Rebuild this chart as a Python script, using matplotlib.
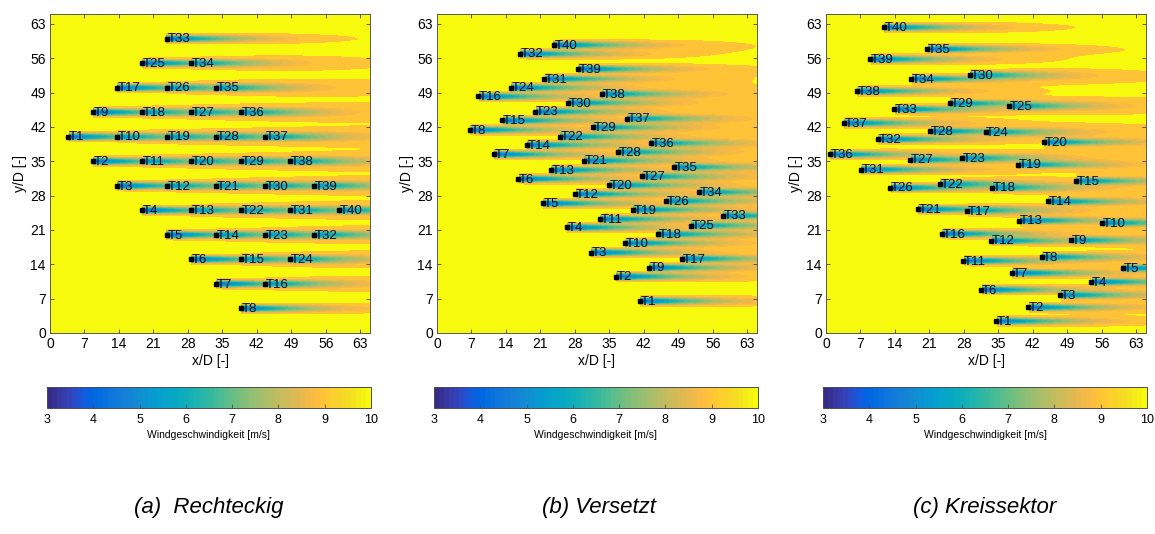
import numpy as np
import matplotlib
matplotlib.use("Agg")
import matplotlib.pyplot as plt
from matplotlib.colors import ListedColormap, Normalize, BoundaryNorm
from matplotlib.cm import ScalarMappable

plt.rcParams['font.family'] = ['Liberation Sans', 'DejaVu Sans']

# ---------------- data ----------------
labels = ["T%d" % i for i in range(1, 41)]

# (a) Rechteckig
rect_x = [3.7, 8.7, 13.7, 18.7, 23.7, 28.7, 33.7, 38.7,
          8.7, 13.7, 18.7, 23.7, 28.7, 33.7, 38.7, 43.7,
          13.7, 18.7, 23.7, 28.7, 33.7, 38.7, 43.7, 48.7,
          18.7, 23.7, 28.7, 33.7, 38.7, 43.7, 48.7, 53.7,
          23.7, 28.7, 33.7, 38.7, 43.7, 48.7, 53.7, 58.7]
rect_y = [40, 35, 30, 25, 20, 15, 10, 5,
          45, 40, 35, 30, 25, 20, 15, 10,
          50, 45, 40, 35, 30, 25, 20, 15,
          55, 50, 45, 40, 35, 30, 25, 20,
          60, 55, 50, 45, 40, 35, 30, 25]

# (b) Versetzt
vers_x = [41.2, 36.4, 31.3, 26.4, 21.5, 16.5, 11.6, 6.7,
          43.1, 38.1, 33.1, 28.1, 23.1, 18.2, 13.3, 8.4,
          49.7, 44.8, 39.8, 34.9, 29.9, 25.0, 20.0, 15.0,
          51.5, 46.6, 41.6, 36.7, 31.7, 26.7, 21.8, 16.8,
          58.1, 53.2, 48.2, 43.4, 38.5, 33.5, 28.6, 23.7]
vers_y = [6.5, 11.5, 16.4, 21.5, 26.4, 31.4, 36.4, 41.4,
          13.3, 18.3, 23.2, 28.3, 33.2, 38.3, 43.3, 48.2,
          15.1, 20.1, 25.1, 30.1, 35.1, 40.0, 45.1, 50.0,
          21.9, 26.9, 31.9, 36.9, 41.9, 46.9, 51.8, 56.9,
          23.9, 28.7, 33.8, 38.7, 43.7, 48.7, 53.8, 58.7]

# (c) Kreissektor
kreis_x = [34.6, 41.1, 47.5, 53.9, 60.3, 31.5, 37.7, 43.8, 49.8, 56.1,
           27.9, 33.5, 39.3, 45.0, 50.7, 23.5, 28.7, 33.8, 39.1, 44.2,
           18.6, 23.1, 27.7, 32.4, 37.2, 13.1, 17.1, 21.1, 25.1, 29.2,
           7.1, 10.5, 13.9, 17.3, 20.6, 0.8, 3.6, 6.2, 9.0, 11.7]
kreis_y = [2.4, 5.2, 7.7, 10.4, 13.2, 8.8, 12.2, 15.5, 18.9, 22.4,
           14.7, 18.8, 22.9, 26.8, 31.0, 20.2, 24.9, 29.6, 34.3, 38.9,
           25.2, 30.4, 35.7, 40.9, 46.2, 29.6, 35.3, 41.1, 46.8, 52.6,
           33.3, 39.5, 45.6, 51.8, 57.9, 36.4, 42.8, 49.3, 55.8, 62.3]

captions = ["(a)  Rechteckig", "(b) Versetzt", "(c) Kreissektor"]
axis_ticks = [0, 7, 14, 21, 28, 35, 42, 49, 56, 63]
cbar_ticks = [3, 4, 5, 6, 7, 8, 9, 10]
U0 = 10.0  # free stream speed [m/s]

# MATLAB parula (64 entries)
PARULA = [
    (0.2081, 0.1663, 0.5292), (0.2116, 0.1898, 0.5777), (0.2123, 0.2138, 0.6270),
    (0.2081, 0.2386, 0.6771), (0.1959, 0.2645, 0.7279), (0.1707, 0.2919, 0.7792),
    (0.1253, 0.3242, 0.8303), (0.0591, 0.3598, 0.8683), (0.0117, 0.3875, 0.8820),
    (0.0060, 0.4086, 0.8828), (0.0165, 0.4266, 0.8786), (0.0329, 0.4430, 0.8720),
    (0.0498, 0.4586, 0.8641), (0.0629, 0.4737, 0.8554), (0.0723, 0.4887, 0.8467),
    (0.0779, 0.5040, 0.8384), (0.0793, 0.5200, 0.8312), (0.0749, 0.5375, 0.8263),
    (0.0641, 0.5570, 0.8240), (0.0488, 0.5772, 0.8228), (0.0343, 0.5966, 0.8199),
    (0.0265, 0.6137, 0.8135), (0.0239, 0.6287, 0.8038), (0.0231, 0.6418, 0.7913),
    (0.0228, 0.6535, 0.7768), (0.0267, 0.6642, 0.7607), (0.0384, 0.6743, 0.7436),
    (0.0590, 0.6838, 0.7254), (0.0843, 0.6928, 0.7062), (0.1133, 0.7015, 0.6859),
    (0.1453, 0.7098, 0.6646), (0.1801, 0.7177, 0.6424), (0.2178, 0.7250, 0.6193),
    (0.2586, 0.7317, 0.5954), (0.3022, 0.7376, 0.5712), (0.3482, 0.7424, 0.5473),
    (0.3953, 0.7459, 0.5244), (0.4420, 0.7481, 0.5033), (0.4871, 0.7491, 0.4840),
    (0.5300, 0.7491, 0.4661), (0.5709, 0.7485, 0.4494), (0.6099, 0.7473, 0.4337),
    (0.6473, 0.7456, 0.4188), (0.6834, 0.7435, 0.4044), (0.7184, 0.7411, 0.3905),
    (0.7525, 0.7384, 0.3768), (0.7858, 0.7356, 0.3633), (0.8185, 0.7327, 0.3498),
    (0.8507, 0.7299, 0.3360), (0.8824, 0.7274, 0.3217), (0.9139, 0.7258, 0.3063),
    (0.9450, 0.7261, 0.2886), (0.9739, 0.7314, 0.2666), (0.9938, 0.7455, 0.2403),
    (0.9990, 0.7653, 0.2164), (0.9955, 0.7861, 0.1967), (0.9880, 0.8066, 0.1794),
    (0.9789, 0.8271, 0.1633), (0.9697, 0.8481, 0.1475), (0.9626, 0.8705, 0.1309),
    (0.9589, 0.8949, 0.1132), (0.9598, 0.9218, 0.0948), (0.9661, 0.9514, 0.0755),
    (0.9763, 0.9831, 0.0538)]
cmap = ListedColormap(PARULA)
VMIN, VMAX = 3.0, 10.0


def parula_at(v):
    idx = int(np.clip((v - VMIN) / (VMAX - VMIN) * 64, 0, 63))
    return PARULA[idx]


# ---------------- simple Gaussian wake model ----------------
def single_wake(xt, yt, uin, X, Y):
    dx = X - xt
    pos = dx > 0
    dxp = np.where(pos, dx, 0.0)
    amp = 0.6 * np.exp(-dxp / 15.0)
    k = 0.011 + 0.045 * (1.0 - uin / U0)
    sig = 0.5 + k * dxp
    return np.where(pos, uin * amp * np.exp(-(Y - yt) ** 2 / (2 * sig ** 2)), 0.0)


def wind_field(tx, ty, X, Y):
    tx = np.asarray(tx, float)
    ty = np.asarray(ty, float)
    order = np.argsort(tx)
    params = []
    for i in order:
        d2 = 0.0
        for (xj, yj, uj) in params:
            d2 += float(single_wake(xj, yj, uj, np.array(tx[i]), np.array(ty[i]))) ** 2
        params.append((tx[i], ty[i], U0 - np.sqrt(d2)))
    tot_sq = np.zeros_like(X)
    tot_lin = np.zeros_like(X)
    for (xj, yj, uj) in params:
        d = single_wake(xj, yj, uj, X, Y)
        tot_sq += d ** 2
        tot_lin += d
    # RSS in the wake cores, closer to linear summation where tails overlap
    comb = np.maximum(np.sqrt(tot_sq), np.minimum(tot_lin, 0.9))
    return U0 - comb


gx = np.linspace(0, 65, 651)
gy = np.linspace(0, 65, 1301)
GX, GY = np.meshgrid(gx, gy)

levels = list(np.arange(3.0, 9.01, 0.25)) + [9.55, 10.01]
band_colors = [parula_at(l) for l in levels[:-2]] + [PARULA[-1]]
band_cmap = ListedColormap(band_colors)
band_norm = BoundaryNorm(levels, band_cmap.N)

# ---------------- figure ----------------
W, H = 1155, 534
fig = plt.figure(figsize=(W / 100, H / 100), dpi=100)

layouts = [(rect_x, rect_y), (vers_x, vers_y), (kreis_x, kreis_y)]
ax_left_px = [50, 437, 826]
cb_left_px = [47, 434, 823]
cap_cx = [209, 599, 985]

for k, (tx, ty) in enumerate(layouts):
    ax = fig.add_axes([ax_left_px[k] / W, (H - 333) / H, 320 / W, 319 / H])
    U = np.clip(wind_field(tx, ty, GX, GY), 3.0, 10.0)
    ax.imshow(U, origin='lower', extent=(0, 65, 0, 65), cmap=band_cmap,
              norm=band_norm, aspect='auto', interpolation='nearest')
    ax.plot(tx, ty, 's', color='black', ms=3.2, mec='black')
    for x, y, lab in zip(tx, ty, labels):
        ax.text(x + 0.15, y - 0.15, lab, fontsize=9.5, color='#0a0a28',
                ha='left', va='center')
    ax.set_xlim(0, 65)
    ax.set_ylim(0, 65)
    ax.set_xticks(axis_ticks)
    ax.set_yticks(axis_ticks)
    ax.tick_params(direction='in', top=True, right=True, length=3,
                   width=0.6, labelsize=10, color='0.25', pad=3)
    for s in ax.spines.values():
        s.set_color('0.35')
        s.set_linewidth(0.7)
    ax.set_xlabel('x/D [-]', fontsize=10, labelpad=2)
    ax.set_ylabel('y/D [-]', fontsize=10, labelpad=2)

    cax = fig.add_axes([cb_left_px[k] / W, (H - 408) / H, 324 / W, 21 / H])
    sm = ScalarMappable(norm=Normalize(VMIN, VMAX), cmap=cmap)
    cb = fig.colorbar(sm, cax=cax, orientation='horizontal', ticks=cbar_ticks)
    cb.outline.set_edgecolor('0.3')
    cb.outline.set_linewidth(0.7)
    cax.tick_params(direction='in', length=3, width=0.6, labelsize=9,
                    color='0.3', pad=4)
    cb.set_label('Windgeschwindigkeit [m/s]', fontsize=7.5, labelpad=3)

    fig.text(cap_cx[k] / W, 1 - 508 / H, captions[k], ha='center', va='center',
             fontsize=16, style='italic')

fig.savefig('out.png', dpi=100)
